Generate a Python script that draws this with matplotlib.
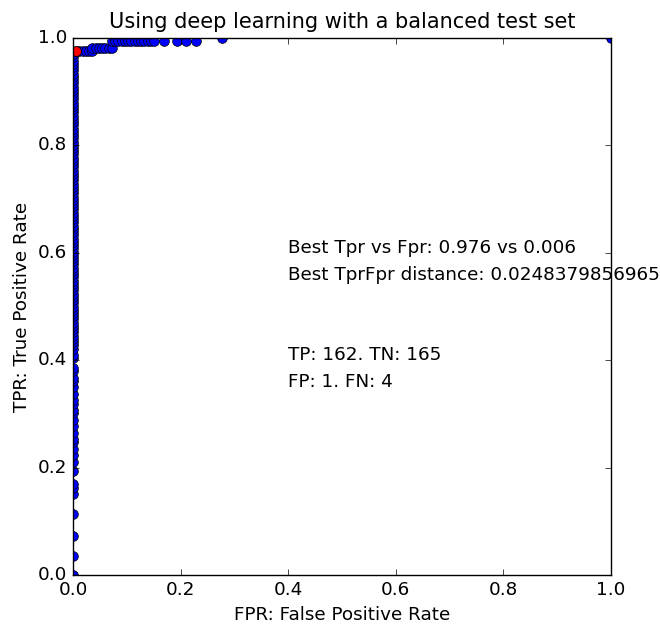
import numpy as np
import matplotlib
matplotlib.use('Agg')
import matplotlib.pyplot as plt

plt.style.use('classic')
plt.rcParams['font.size'] = 13.2

# test set sizes
n_pos = 166
n_neg = 166

# ROC points grouped by segment (counts of true / false positives)
tp_at_fp0 = [0, 6, 12, 19, 25, 27, 28, 32, 35, 37, 39, 41, 42, 44, 46, 48, 50,
             51, 53, 54, 56, 58, 60, 61, 63, 64, 67, 68, 70, 71, 72, 73, 74,
             75, 76, 77, 78, 79, 80, 81, 82, 83, 84, 85, 86, 87, 88, 89, 90,
             91, 92, 93, 94, 95, 96, 97, 98, 99, 100, 101, 102, 103, 104, 105,
             106, 107, 108, 109, 110, 111, 112, 113, 114, 115, 116, 117, 118,
             119, 120, 121, 122, 123, 124, 125, 126, 127, 128, 129, 130, 131,
             132, 133, 134, 135, 136, 137, 138, 139, 140, 141, 142, 143, 144,
             145, 146, 147, 148, 149, 150, 151, 152, 153, 154, 155, 156, 157,
             158, 159, 160, 161]
fp_at_tp162 = [1, 2, 3, 4, 5, 6]
fp_at_tp163 = [6, 7, 8, 9, 10, 11, 12]
fp_at_tp165 = [12, 13, 14, 15, 16, 17, 18, 19, 20, 21, 22, 23, 24, 25,
               28, 32, 35, 38]
fp_at_tp166 = [46, 166]

best_tpr = 0.976
best_fpr = 0.006
best_dist = '0.0248379856965'
tp, tn, fp, fn = 162, 165, 1, 4

fp_counts = ([0] * len(tp_at_fp0) + fp_at_tp162 + fp_at_tp163
             + fp_at_tp165 + fp_at_tp166)
tp_counts = (tp_at_fp0 + [162] * len(fp_at_tp162) + [163] * len(fp_at_tp163)
             + [165] * len(fp_at_tp165) + [166] * len(fp_at_tp166))

fpr = np.array(fp_counts) / float(n_neg)
tpr = np.array(tp_counts) / float(n_pos)

fig = plt.figure(figsize=(6.6, 6.24), dpi=100, facecolor='white')
ax = fig.add_axes([0.1106, 0.0785, 0.8152, 0.8606])

pts = ax.plot(fpr, tpr, 'bo', markersize=7, markeredgewidth=0.5)
best = ax.plot(best_fpr, best_tpr, 'ro', markersize=7, markeredgewidth=0.5)
# clip markers at the axes edges
for ln in pts + best:
    ln.set_clip_path(ax.patch)

ax.text(0.4, 0.6, 'Best Tpr vs Fpr: %.3f vs %.3f' % (best_tpr, best_fpr), zorder=2)
ax.text(0.4, 0.55, 'Best TprFpr distance: ' + best_dist, zorder=2)
ax.text(0.4, 0.4, 'TP: %d. TN: %d' % (tp, tn), zorder=2)
ax.text(0.4, 0.35, 'FP: %d. FN: %d' % (fp, fn), zorder=2)

ax.set_xlim(0, 1)
ax.set_ylim(0, 1)
ax.set_xticks([0, 0.2, 0.4, 0.6, 0.8, 1.0])
ax.set_yticks([0, 0.2, 0.4, 0.6, 0.8, 1.0])
ax.set_xlabel('FPR: False Positive Rate')
ax.set_ylabel('TPR: True Positive Rate')
ax.set_title('Using deep learning with a balanced test set', fontsize=15, y=1.005)

fig.savefig('out.png', dpi=100, facecolor='white')
